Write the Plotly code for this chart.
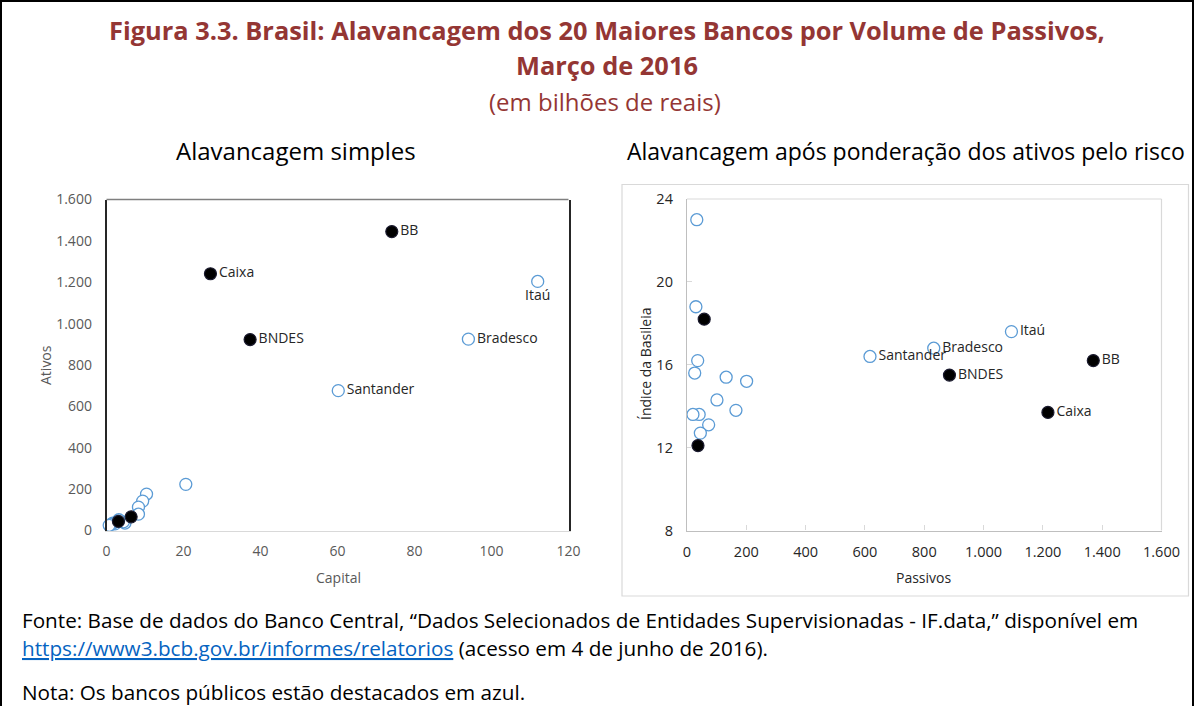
import plotly.graph_objects as go

W, H = 1195, 706


def px(x):
    return x / W


def py(y):
    return 1 - y / H


# ---------------- Data ----------------
# Left chart: Alavancagem simples (Capital x Ativos)
capital_privados = [112, 94, 60.2, 20.6, 10.4, 9.4, 8.3, 8.3, 4.8, 4.4, 3.2, 2.2, 1.6, 1.2, 0.7]
ativos_privados = [1204, 925, 676, 223, 176, 142, 113, 79, 36, 42, 52, 32, 35, 30, 25]
rotulos_privados_esq = ["Itaú", "Bradesco", "Santander"] + [""] * 12

capital_publicos = [74.1, 27.0, 37.3, 6.4, 3.1]
ativos_publicos = [1445, 1241, 923, 66, 44]
rotulos_publicos_esq = ["BB", "Caixa", "BNDES", "", ""]

# Right chart: Alavancagem após ponderação (Passivos x Índice da Basileia)
passivos_privados = [1094, 832, 617, 201, 165, 132, 101, 73, 45, 41, 36, 33, 30, 26, 20]
basileia_privados = [17.6, 16.8, 16.4, 15.2, 13.8, 15.4, 14.3, 13.1, 12.7, 13.6, 16.2, 23.0, 18.8, 15.6, 13.6]
rotulos_privados_dir = ["Itaú", "Bradesco", "Santander"] + [""] * 12

passivos_publicos = [1370, 1217, 885, 58, 37]
basileia_publicos = [16.2, 13.7, 15.5, 18.2, 12.1]
rotulos_publicos_dir = ["BB", "Caixa", "BNDES", "", ""]

# ---------------- Styles ----------------
FONT = "Open Sans"
RED = "#943634"
BLUE = "#5B9BD5"
LBL = "#262626"

open_marker = dict(symbol="circle", size=12, color="white", line=dict(color=BLUE, width=1.3))
filled_marker = dict(symbol="circle", size=12, color="black", line=dict(color="#1a1a2e", width=1.2))

fig = go.Figure()

# Left chart traces
fig.add_trace(go.Scatter(
    x=capital_privados, y=ativos_privados, mode="markers+text",
    text=rotulos_privados_esq,
    textposition=["bottom center", "middle right", "middle right"] + ["middle right"] * 12,
    textfont=dict(family=FONT, size=14, color=LBL),
    marker=open_marker, xaxis="x", yaxis="y", cliponaxis=False, showlegend=False))
fig.add_trace(go.Scatter(
    x=capital_publicos, y=ativos_publicos, mode="markers+text",
    text=rotulos_publicos_esq, textposition="middle right",
    textfont=dict(family=FONT, size=14, color=LBL),
    marker=filled_marker, xaxis="x", yaxis="y", cliponaxis=False, showlegend=False))

# Right chart traces
fig.add_trace(go.Scatter(
    x=passivos_privados, y=basileia_privados, mode="markers+text",
    text=rotulos_privados_dir, textposition="middle right",
    textfont=dict(family=FONT, size=14, color=LBL),
    marker=open_marker, xaxis="x2", yaxis="y2", cliponaxis=False, showlegend=False))
fig.add_trace(go.Scatter(
    x=passivos_publicos, y=basileia_publicos, mode="markers+text",
    text=rotulos_publicos_dir, textposition="middle right",
    textfont=dict(family=FONT, size=14, color=LBL),
    marker=filled_marker, xaxis="x2", yaxis="y2", cliponaxis=False, showlegend=False))

# ---------------- Axes ----------------
L = dict(x0=106.5, x1=568.5, y0=199.5, y1=530.5)
R = dict(x0=687, x1=1161.5, y0=199, y1=530.5)

fig.update_layout(
    xaxis=dict(domain=[px(L["x0"]), px(L["x1"])], range=[0, 120], dtick=20,
               showgrid=False, zeroline=False, showline=True, linecolor="#D9D9D9", linewidth=1.3,
               ticks="", tickfont=dict(family=FONT, size=14, color="#595959"),
               ticklabelstandoff=8, tickformat=",d", anchor="y", automargin=False),
    yaxis=dict(domain=[py(L["y1"]), py(L["y0"])], range=[0, 1600], dtick=200,
               showgrid=False, zeroline=False, showline=True, linecolor="#262626", linewidth=1.6,
               mirror=True, ticks="", tickfont=dict(family=FONT, size=14, color="#595959"),
               ticklabelstandoff=10, tickformat=",d", anchor="x", automargin=False),
    xaxis2=dict(domain=[px(R["x0"]), px(R["x1"])], range=[0, 1600], dtick=200,
                showgrid=False, zeroline=False, showline=True, linecolor="#BFBFBF", linewidth=1.3,
                ticks="inside", ticklen=5, tickcolor="#D9D9D9",
                tickfont=dict(family=FONT, size=14.5, color="#262626"),
                ticklabelstandoff=8, tickformat=",d", anchor="y2", automargin=False),
    yaxis2=dict(domain=[py(R["y1"]), py(R["y0"])], range=[8, 24], dtick=4,
                showgrid=False, zeroline=False, showline=True, linecolor="#BFBFBF", linewidth=1.3,
                ticks="inside", ticklen=5, tickcolor="#D9D9D9",
                tickfont=dict(family=FONT, size=14.5, color="#262626"),
                ticklabelstandoff=10, anchor="x2", automargin=False),
    separators=",.",
    width=W, height=H,
    margin=dict(l=0, r=0, t=0, b=0),
    paper_bgcolor="white", plot_bgcolor="white",
    font=dict(family=FONT),
)

shapes = []
# outer frame
shapes.append(dict(type="rect", xref="paper", yref="paper", x0=px(1), x1=px(1193), y0=py(760), y1=py(1),
                   line=dict(color="black", width=2), fillcolor="rgba(0,0,0,0)", layer="below"))
# left chart: top line gray
shapes.append(dict(type="line", xref="paper", yref="paper", x0=px(L["x0"]), x1=px(L["x1"]),
                   y0=py(L["y0"]), y1=py(L["y0"]), line=dict(color="#7F7F7F", width=1.6)))
# right chart: outer chart area border
shapes.append(dict(type="rect", xref="paper", yref="paper", x0=px(622), x1=px(1188.5), y0=py(596), y1=py(184.5),
                   line=dict(color="#D9D9D9", width=1.2), fillcolor="rgba(0,0,0,0)", layer="below"))
# right chart: plot area top and right borders
shapes.append(dict(type="line", xref="paper", yref="paper", x0=px(R["x0"]), x1=px(R["x1"]),
                   y0=py(R["y0"]), y1=py(R["y0"]), line=dict(color="#D9D9D9", width=1.2)))
shapes.append(dict(type="line", xref="paper", yref="paper", x0=px(R["x1"]), x1=px(R["x1"]),
                   y0=py(R["y0"]), y1=py(R["y1"]), line=dict(color="#D9D9D9", width=1.2)))
fig.update_layout(shapes=shapes)

ann = []


def add_text(text, x, y, size, color="black", xanchor="center", yanchor="middle", angle=0, bold=False):
    ann.append(dict(text=("<b>%s</b>" % text) if bold else text, x=px(x), y=py(y),
                    xref="paper", yref="paper", showarrow=False, xanchor=xanchor, yanchor=yanchor,
                    textangle=angle, font=dict(family=FONT, size=size, color=color)))


add_text("Figura 3.3. Brasil: Alavancagem dos 20 Maiores Bancos por Volume de Passivos,", 607, 30, 25.4, RED, bold=True)
add_text("Março de 2016", 607, 65, 25.4, RED, bold=True)
add_text("(em bilhões de reais)", 605, 101, 24, RED)
add_text("Alavancagem simples", 296, 151, 24, "black")
add_text("Alavancagem após ponderação dos ativos pelo risco", 906, 151, 23, "black")
add_text("Capital", 338, 577, 14, "#595959")
add_text("Ativos", 45, 365, 14, "#595959", angle=-90)
add_text("Passivos", 924, 577, 14, "#262626")
add_text("Índice da Basileia", 645, 364, 14, "#262626", angle=-90)
add_text("Fonte: Base de dados do Banco Central, “Dados Selecionados de Entidades Supervisionadas - IF.data,” disponível em",
         20, 620, 20.7, "black", xanchor="left")
add_text('<a href="https://www3.bcb.gov.br/informes/relatorios"><span style="color:#0563C1"><u>https://www3.bcb.gov.br/informes/relatorios</u></span></a> (acesso em 4 de junho de 2016).',
         20, 648, 20.7, "black", xanchor="left")
add_text("Nota: Os bancos públicos estão destacados em azul.", 20, 692, 20.7, "black", xanchor="left")

fig.update_layout(annotations=ann)

fig.write_html("out.html", config={"displayModeBar": False},
               post_script="document.body.style.margin='0';document.body.style.overflow='hidden';")
